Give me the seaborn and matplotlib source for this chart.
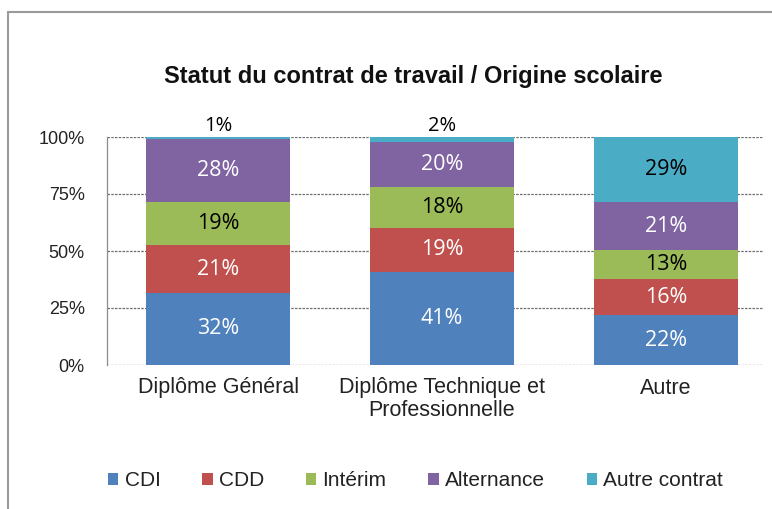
import numpy as np
import pandas as pd
import matplotlib
matplotlib.use("Agg")
import matplotlib.pyplot as plt
from matplotlib.lines import Line2D
import seaborn as sns

# ---- données ----
origines = ["Diplôme Général", "Diplôme Technique et\nProfessionnelle", "Autre"]
contrats = ["CDI", "CDD", "Intérim", "Alternance", "Autre contrat"]
cdi = [32, 41, 22]
cdd = [21, 19, 16]
interim = [19, 18, 13]
alternance = [28, 20, 21]
autre_contrat = [1, 2, 29]
couleurs = ["#4F81BD", "#C0504D", "#9BBB59", "#8064A2", "#4BACC6"]
couleurs_texte = ["white", "white", "black", "white", "black"]

sns.set_theme(style="white")
plt.rcParams["font.family"] = ["Liberation Sans", "DejaVu Sans"]

df = pd.DataFrame({"origine": origines, "CDI": cdi, "CDD": cdd, "Intérim": interim,
                   "Alternance": alternance, "Autre contrat": autre_contrat})
vals = df[contrats]
parts = vals.div(vals.sum(axis=1), axis=0)  # graphique 100 % empilé
bases = parts.cumsum(axis=1) - parts

W, H = 772, 509
fig = plt.figure(figsize=(W / 100, H / 100), dpi=100)
ax = fig.add_axes([107 / W, 144 / H, (763 - 107) / W, (365 - 137) / H])

for i, c in enumerate(contrats):
    sns.barplot(x=df["origine"], y=parts[c], bottom=bases[c], color=couleurs[i],
                width=0.64, saturation=1, label=c, ax=ax, zorder=3, linewidth=0)
    for j in range(len(origines)):
        v = vals[c].iloc[j]
        if v < 5:
            ax.annotate(f"{v}%", (j, 1.0), xytext=(0, 1), textcoords="offset points",
                        ha="center", va="bottom", fontsize=14.5, color="black",
                        family=["Open Sans", "DejaVu Sans"])
        else:
            ax.text(j, bases[c].iloc[j] + parts[c].iloc[j] / 2, f"{v}%", ha="center",
                    va="center", fontsize=15.5, color=couleurs_texte[i],
                    family=["Open Sans", "DejaVu Sans"], zorder=4)

ax.set_xlim(-0.496, 2.433)
ax.set_ylim(0, 1)
ax.set_yticks([0, 0.25, 0.5, 0.75, 1.0])
ax.set_yticklabels(["0%", "25%", "50%", "75%", "100%"], fontsize=13, color="#222222")
ax.tick_params(axis="y", length=0, pad=16)
ax.tick_params(axis="x", length=0, pad=9, labelsize=15.5, colors="#222222")
for lbl in ax.get_xticklabels():
    lbl.set_linespacing(1.1)
ax.set_xlabel("")
ax.set_ylabel("")
ax.yaxis.grid(True, color="#6f6f6f", linestyle=(0, (2, 1)), linewidth=0.9, zorder=0)
ax.set_axisbelow(True)
for s in ["top", "right", "bottom"]:
    ax.spines[s].set_visible(False)
ax.spines["left"].set_color("#8c8c8c")
ax.spines["left"].set_linewidth(0.9)
if ax.get_legend():
    ax.get_legend().remove()

fig.text(413 / W, 1 - 76 / H, "Statut du contrat de travail / Origine scolaire",
         ha="center", va="center", fontsize=17, fontweight="bold", color="#111111")

handles, labels = ax.get_legend_handles_labels()
fig.legend(handles, labels, loc="center", bbox_to_anchor=(415.5 / W, 1 - 481 / H),
           ncol=5, frameon=False, fontsize=15, handlelength=0.5, handleheight=0.5,
           handletextpad=0.3, columnspacing=2.0, labelcolor="#222222")

# cadre du graphique (gauche et haut)
fig.add_artist(Line2D([8 / W, 8 / W], [0, 1 - 12 / H], color="#9a9a9a", linewidth=1.5))
fig.add_artist(Line2D([8 / W, 1], [1 - 12 / H, 1 - 12 / H], color="#9a9a9a", linewidth=1.5))

fig.savefig("out.png", dpi=100, facecolor="white")
